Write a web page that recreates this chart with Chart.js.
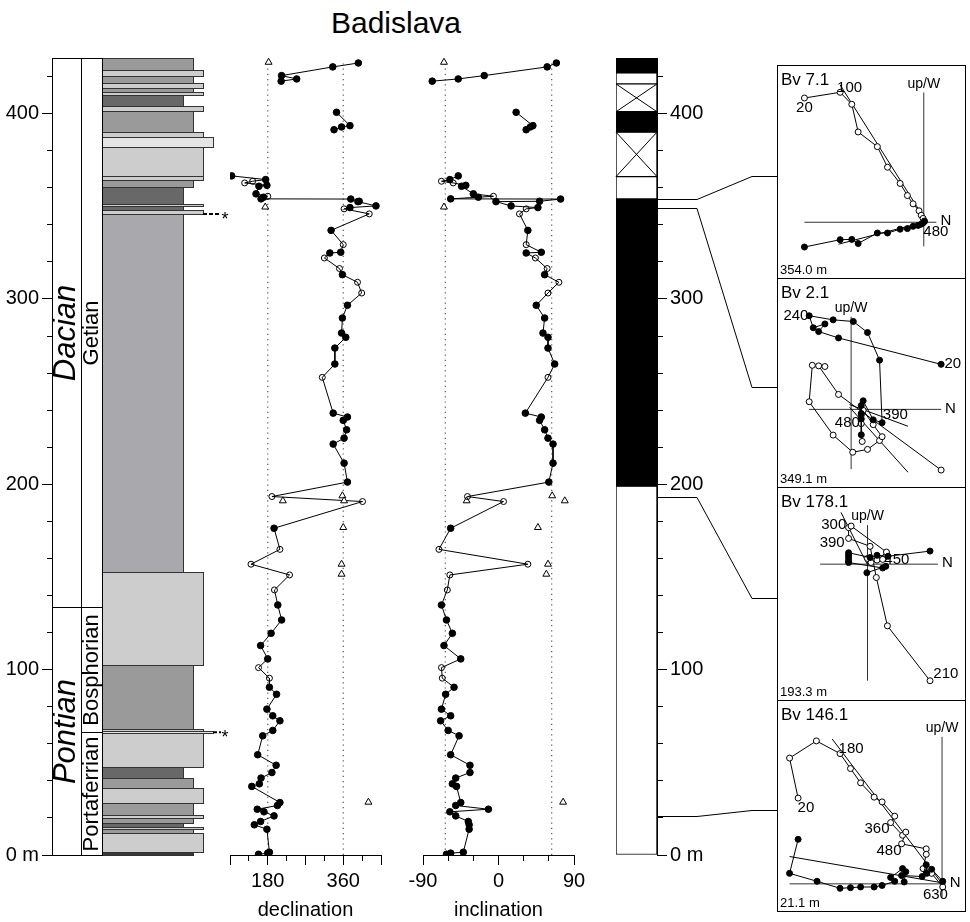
<!DOCTYPE html>
<html>
<head>
<meta charset="utf-8">
<title>Badislava</title>
<script src="https://cdn.jsdelivr.net/npm/chart.js@4.4.1/dist/chart.umd.min.js"></script>
<style>
  body { margin: 0; background: #fff; }
  #page { position: relative; width: 970px; height: 922px; overflow: hidden; background: #fff; }
  #page canvas { position: absolute; }
  #title { position: absolute; left: 246px; top: 6px; width: 300px; text-align: center;
           font: 30px 'Liberation Sans', Arial, sans-serif; line-height: 34px; color: #000; }
</style>
</head>
<body>
<div id="page">
  <div id="title">Badislava</div>
  <canvas id="litho" width="240" height="922" style="left:0;top:0"></canvas>
  <canvas id="dec" width="200" height="922" style="left:200px;top:0"></canvas>
  <canvas id="inc" width="200" height="922" style="left:400px;top:0"></canvas>
  <canvas id="pol" width="178" height="922" style="left:600px;top:0"></canvas>
</div>
<script>
const sans = "'Liberation Sans', Arial, sans-serif" ;
const narrow = "'Liberation Sans Narrow', 'Liberation Sans', Arial, sans-serif" ;

// ---------- lithology (top of each bed in m, bed runs down to the next top) ----------
let lithoTop = [430, 423.3, 420.4, 416.3, 413.6, 411.4, 409.8, 404.2, 401.4, 390.2, 387.3, 382, 366.4, 364.4, 360.4,
                351.4, 349.9, 347.9, 345.8, 152.8, 102.7, 67.8, 66.7, 65.6, 47.7, 41.7, 36.3, 28.2, 21.6, 20.1,
                17.1, 15.3, 13.8, 12, 1.8] ;
let lithoType = ['silt','sand','silt','sand','silt','sand','clay','sand','silt','sand','coarse','sand','sand','silt','clay',
                 'sand','clay','sand','marl','sand','silt','sand','coarse','sand','clay','silt','sand','silt','sand','silt',
                 'clay','sand','silt','sand','dark'] ;
let starDepth = [345.8, 66.2] ;

let stageNames = ['Dacian', 'Pontian'] ;
let stageTop = [430, 134] ;
let stageBottom = [134, 0] ;
let subNames = ['Getian', 'Bosphorian', 'Portaferrian'] ;
let subTop = [430, 134, 66.4] ;
let subBottom = [134, 66.4, 0] ;

// ---------- palaeomagnetic directions ----------
let topDepth = [427.3, 425.2, 420.5, 418.7, 417.5] ;
let topDec = [396, 335, 213, 249, 212] ;
let topInc = [69, 58, -17, -48, -79] ;

let midDepth = [400.7, 393.5, 392.8, 391.3] ;
let midDec = [344, 376, 356, 338] ;
let midInc = [21, 41, 38, 33] ;

let mainDepth = [366.4, 364.4, 363.5, 362.6, 361.3, 360.8, 356.7, 355.4, 354.9, 354.0, 353.9, 352.7, 352.5, 350.2, 349.3, 348.6, 345.9,
  337.0, 329.3, 325.2, 324.8, 322.1, 316.4, 313.1, 309.0, 303.2, 296.6, 289.7, 281.6, 279.3, 273.5, 264.9, 257.7,
  238.4, 236.3, 234.5, 229.4, 224.9, 221.7, 211.4, 201.2, 193.4, 190.7, 176.3, 164.9, 156.9, 151.1, 143.0, 134.9,
  126.8, 119.6, 113.0, 105.8, 101.1, 95.4, 90.5, 86.7, 78.7, 75.1, 72.4, 67.2, 64.3, 54.1, 48.4, 44.5, 41.5, 38.4,
  37.0, 28.3, 26.7, 24.7, 23.3, 21.1, 18.1, 16.3, 13.9, 1.5, 1.0, 0.4] ;
let mainDec = [94, 175, 144, 125, 178, 159, 152, 180, 170, 164, 378, 398, 395, 438, 376, 362, 422,
  331, 360, 354, 328, 315, 351, 358, 394, 404, 370, 358, 356, 366, 340, 340, 310,
  336, 370, 360, 368, 362, 336, 362, 370, 190, 406, 195, 209, 140, 232, 196, 204,
  213, 188, 163, 180, 158, 184, 184, 201, 178, 192, 209, 192, 168, 156, 200, 190, 164, 160,
  142, 209, 203, 155, 171, 195, 163, 148, 178, 184, 180, 158] ;
let mainInc = [-48, -58, -68, -54, -39, -44, -30, -6, -24, -57, 74, 49, -3, 15, 47, 33, 25,
  35, 33, 51, 33, 44, 58, 55, 72, 59, 45, 55, 53, 59, 59, 67, 59,
  32, 51, 49, 55, 59, 65, 65, 60, -37, 6, -57, -71, 35, -58, -61, -68,
  -62, -55, -65, -45, -68, -67, -53, -63, -68, -57, -69, -60, -47, -57, -34, -34, -51, -55,
  -50, -45, -51, -12, -58, -51, -36, -35, -35, -42, -57, -62] ;
let mainOpen = [0, 0, 1, 1, 0, 0, 0, 1, 0, 0, 0, 0, 0, 0, 0, 1, 1,
  0, 1, 0, 0, 1, 1, 0, 1, 1, 0, 0, 0, 0, 0, 0, 1,
  0, 0, 0, 0, 0, 0, 0, 0, 1, 1, 0, 1, 1, 1, 1, 0,
  0, 0, 0, 0, 1, 1, 0, 0, 0, 0, 0, 0, 0, 0, 0, 0, 0, 0,
  0, 0, 0, 0, 0, 0, 0, 0, 0, 0, 0, 0] ;

// rejected directions (triangles)
let rejDepth = [427.7, 349.6, 193.8, 191.1, 191.1, 176.7, 156.9, 151.5, 28.5] ;
let rejDec = [182, 174, 358, 362, 216, 360, 356, 356, 420] ;
let rejInc = [-65, -65, 64, 79, -38, 47, 59, 57, 77] ;

let decRefs = [180, 360] ;
let incRefs = [-63.4, 63.4] ;

// ---------- polarity zones ----------
let polTop = [430, 422, 416, 401, 390, 366, 354, 199] ;
let polBottom = [422, 416, 401, 390, 366, 354, 199, 0] ;
let polType = ['N', 'gap', 'x', 'N', 'x', 'R', 'N', 'R'] ;

// ---------- Zijderveld diagrams (N component, up/W component; arbitrary units) ----------
let zijNames = ['Bv 7.1', 'Bv 2.1', 'Bv 178.1', 'Bv 146.1'] ;
let zijDepthText = ['354.0 m', '349.1 m', '193.3 m', '21.1 m'] ;
let zijLink = [354.0, 349.1, 193.3, 21.1] ;

let bv71Open = [[-126,130.3],[-88.3,136.3],[-76,123.7],[-69.3,94.7],[-49,79.3],[-38.3,57.7],[-25,40.7],[-17.3,28],[-11.3,19.3],[-5,12],[-2.7,7.3],[-0.7,4],[0.7,1.3]] ;
let bv71Filled = [[-126,-26],[-88.3,-18.3],[-76,-18],[-69.3,-22.3],[-49,-11.3],[-38.3,-11.3],[-25,-7.3],[-17.3,-6.7],[-11.3,-4.3],[-6,-3.3],[-2.7,-2],[-0.7,-0.7],[0.7,0.7]] ;
let bv71Fit = [[[-88.3,144],[2.7,0.7]], [[-90,-23],[2.7,0.7]]] ;
let bv71Axes = [[-126,13.3],[-25.3,136]] ;
let bv71Temps = [['20',-126,120.3],['100',-78.3,140.7],['480',12.7,-9.7]] ;

let bv21Open = [[95,-63.7],[-13.3,15.7],[-34.3,45.7],[-27.7,45],[-41,46.3],[-44.3,8],[-19,-27],[1.7,-45],[17.3,-42],[30,-32.7],[32.7,-28.7],[23.3,-16],[12.7,-1],[10.7,-6],[10.7,-15],[11.7,-33.7]] ;
let bv21Filled = [[95,47.3],[-13.3,75],[-34.3,81.7],[-27.7,89.7],[-40,85.7],[-44.3,98.3],[-19,94],[2.3,92.3],[17.3,80.7],[30,51.7],[32.7,-14],[23.3,-11],[12.7,9],[10.7,4],[10.7,-4.3],[10.7,-10],[10.7,-26.7]] ;
let bv21Fit = [[[-1.7,5],[60,-17.7]], [[-1.7,2.3],[60,-66]]] ;
let bv21Axes = [[-44.3,95],[-62.7,97.3]] ;
let bv21Temps = [['240',-58.3,98.3],['20',107.3,47.3],['390',46.7,-6],['480',-4,-14.3]] ;

let bv178Open = [[66,-122.3],[21,-64.7],[9.3,-14],[2.7,18.7],[-20,27],[-20,38.3],[-17.3,40],[20,12.7],[10,4.3],[16,5],[0,6],[3.7,1.7]] ;
let bv178Filled = [[66,13.7],[21.7,8.3],[10,9.3],[2.7,7],[-20,12],[-20,9.3],[-20,6.7],[-20,3.7],[-20,1.7],[16,-4],[19.3,-2.3],[-0.7,-9]] ;
let bv178Fit = [[[-28,54.3],[0,-0.7]]] ;
let bv178Axes = [[-50,74.3],[-122.3,41]] ;
let bv178Temps = [['300',-35.7,41],['390',-37.3,22.7],['450',31,4.3],['210',82.7,-115]] ;

let bv146Open = [[-152,90],[-161,132],[-132.7,150],[-107.7,136.7],[-96.7,121],[-86,106],[-71.7,91],[-63.3,86],[-50,71],[-54.3,64.3],[-41.7,51],[-38.3,54.3],[-42.7,42],[-16.7,36.7],[-16.7,31],[-20,16],[-11,11],[0.7,-3.3]] ;
let bv146Filled = [[-152,46.7],[-161,11],[-132,2.7],[-107.7,-4.7],[-96.7,-4],[-86,-3.3],[-71.7,-3.3],[-63.3,-1.7],[-50,2.7],[-54.3,6.7],[-41.7,16],[-38.3,12.7],[-40,2],[-42.7,8.7],[-21,7.7],[-16.7,20],[-16,11],[-11,15.3],[0.7,2.7]] ;
let bv146Fit = [[[-116,152],[0.7,-0.7]], [[-161,28.7],[0.7,1]]] ;
let bv146Axes = [[-161,4],[-14,154.3]] ;
let bv146Temps = [['180',-96,142],['20',-143.7,80],['360',-68.7,57.7],['480',-56,34.3],['630',-7,-11.3]] ;

let zijOpen = [bv71Open, bv21Open, bv178Open, bv146Open] ;
let zijFilled = [bv71Filled, bv21Filled, bv178Filled, bv146Filled] ;
let zijFit = [bv71Fit, bv21Fit, bv178Fit, bv146Fit] ;
let zijAxes = [bv71Axes, bv21Axes, bv178Axes, bv146Axes] ;
let zijTemps = [bv71Temps, bv21Temps, bv178Temps, bv146Temps] ;

// ---------- layout ----------
const boxTop = [65, 278, 487, 700, 911] ;      // page y of the Zijderveld boxes
const zijView = [[-149.7, 159.7], [-73, 132.7], [-90.3, 75.7], [-169, 187.7]] ;  // upper-left corner in data units
const lithoWidth = {clay: 81, marl: 81, silt: 91, dark: 91, sand: 101, coarse: 111} ;
const lithoColour = {clay: '#686868', marl: '#a9a9ad', silt: '#9a9a9a', dark: '#383838', sand: '#cdcdcd', coarse: '#e4e4e4'} ;

Chart.defaults.font.family = sans ;
Chart.defaults.color = '#000' ;

function pts (arr) { return arr.map(p => ({x: p[0], y: p[1]})) ; }
function zipPts (xs, ys) { return xs.map((v, i) => ({x: v, y: ys[i]})) ; }

function depthAxis (pos) {
  return {
    type: 'linear', min: 0, max: 430, bounds: 'data', position: pos,
    afterFit: function (s) { s.width = pos === 'left' ? 52 : 50 ; },
    ticks: { stepSize: 20, maxTicksLimit: 100, autoSkip: false, padding: 3, color: '#000',
             font: {family: narrow, size: 20},
             callback: v => v % 100 === 0 ? (v === 0 ? '0 m' : String(v)) : '' },
    grid: { drawOnChartArea: false, tickLength: 10,
            tickColor: c => (c.tick && c.tick.value > 425) ? 'rgba(0,0,0,0)' : '#000',
            tickBorderDash: c => (c.tick && c.tick.value % 100 !== 0) ? (pos === 'left' ? [0, 5, 5, 100] : [5, 100]) : [] },
    border: { display: true, color: '#000', width: 1 }
  } ;
}

function angleAxis (min, max, step, major, labelled, title) {
  return {
    type: 'linear', min: min, max: max, bounds: 'data', position: 'bottom',
    afterFit: function (s) { s.height = 67 ; },
    ticks: { stepSize: step, maxTicksLimit: 100, autoSkip: false, maxRotation: 0, padding: 4, color: '#000',
             font: {family: narrow, size: 20},
             callback: v => labelled.includes(v) ? String(v) : '' },
    grid: { drawOnChartArea: false, tickLength: 10, tickColor: '#000',
            tickBorderDash: c => (c.tick && major.includes(c.tick.value)) ? [] : [5, 100] },
    border: { display: true, color: '#000', width: 1 },
    title: { display: true, text: title, color: '#000', font: {family: sans, size: 20}, padding: {top: 0, bottom: 0} }
  } ;
}

// ---------- lithology column ----------
const lithoPlugin = {
  id: 'litho',
  afterDraw (chart) {
    const ctx = chart.ctx, xs = chart.scales.x, ys = chart.scales.y ;
    const px = v => Math.round(xs.getPixelForValue(v)) + 0.5 ;
    const py = v => Math.round(ys.getPixelForValue(v)) + 0.5 ;
    ctx.save() ;
    ctx.lineWidth = 1 ;
    // beds
    for (let i = 0; i < lithoTop.length; i++) {
      let bottom = i + 1 < lithoTop.length ? lithoTop[i + 1] : 0 ;
      let t = lithoType[i] ;
      let x0 = px(50), x1 = px(50 + lithoWidth[t]), y0 = py(lithoTop[i]), y1 = py(bottom) ;
      ctx.fillStyle = lithoColour[t] ;
      ctx.fillRect(x0, y0, x1 - x0, y1 - y0) ;
      ctx.strokeStyle = '#333' ;
      ctx.strokeRect(x0, y0, x1 - x0, y1 - y0) ;
    }
    // stage / substage columns
    ctx.strokeStyle = '#000' ;
    ctx.fillStyle = '#000' ;
    ctx.textAlign = 'center' ;
    ctx.textBaseline = 'middle' ;
    for (let i = 0; i < stageNames.length; i++) {
      let y0 = py(stageTop[i]), y1 = py(stageBottom[i]) ;
      ctx.strokeRect(px(0), y0, px(29) - px(0), y1 - y0) ;
      ctx.save() ;
      ctx.translate(xs.getPixelForValue(14.5), (y0 + y1) / 2) ;
      ctx.rotate(-Math.PI / 2) ;
      ctx.font = 'italic 31px ' + sans ;
      ctx.fillText(stageNames[i], 0, 0) ;
      ctx.restore() ;
    }
    for (let i = 0; i < subNames.length; i++) {
      let y0 = py(subTop[i]), y1 = py(subBottom[i]) ;
      ctx.strokeRect(px(29), y0, px(50) - px(29), y1 - y0) ;
      ctx.save() ;
      ctx.translate(xs.getPixelForValue(39.5), (y0 + y1) / 2) ;
      ctx.rotate(-Math.PI / 2) ;
      ctx.font = '22px ' + sans ;
      ctx.fillText(subNames[i], 0, 0) ;
      ctx.restore() ;
    }
    // marker beds
    for (let d of starDepth) {
      let k = lithoTop.findIndex((t, i) => t > d && d >= (i + 1 < lithoTop.length ? lithoTop[i + 1] : 0)) ;
      let y = ys.getPixelForValue(d) ;
      ctx.setLineDash([4, 2]) ;
      ctx.lineWidth = 2 ;
      ctx.beginPath() ;
      ctx.moveTo(xs.getPixelForValue(50 + lithoWidth[lithoType[k]]), y) ;
      ctx.lineTo(xs.getPixelForValue(169), y) ;
      ctx.stroke() ;
      ctx.setLineDash([]) ;
      ctx.font = '18px ' + sans ;
      ctx.textBaseline = 'alphabetic' ;
      ctx.fillText('*', xs.getPixelForValue(173), y + 11) ;
    }
    ctx.restore() ;
  }
} ;

new Chart(document.getElementById('litho'), {
  type: 'scatter',
  data: { datasets: [] },
  options: {
    responsive: false, animation: false, events: [],
    layout: { padding: {top: 58, bottom: 67, left: 0, right: 0} },
    plugins: { legend: {display: false}, tooltip: {enabled: false} },
    scales: {
      x: { type: 'linear', min: 0, max: 188, bounds: 'data', display: false },
      y: depthAxis('left')
    }
  },
  plugins: [lithoPlugin]
}) ;

// ---------- declination / inclination ----------
function makeDirChart (id, topV, midV, mainV, rejV, refs, axis, pad) {
  let ds = [] ;
  refs.forEach(r => ds.push({ data: [{x: r, y: 0}, {x: r, y: 428}], showLine: true, pointRadius: 0,
    borderColor: '#555', borderWidth: 1.2, borderDash: [1.2, 4], order: 6 })) ;
  [zipPts(topV, topDepth), zipPts(midV, midDepth), zipPts(mainV, mainDepth)].forEach(g => ds.push({
    data: g, showLine: true, pointRadius: 0, borderColor: '#000', borderWidth: 1, order: 5 })) ;
  ds.push({ data: zipPts(rejV, rejDepth), pointStyle: 'triangle', pointRadius: 4,
    backgroundColor: '#fff', borderColor: '#000', borderWidth: 1, order: 3 }) ;
  let open = zipPts(mainV, mainDepth).filter((p, i) => mainOpen[i]) ;
  let filled = zipPts(topV, topDepth).concat(zipPts(midV, midDepth), zipPts(mainV, mainDepth).filter((p, i) => !mainOpen[i])) ;
  ds.push({ data: open, pointRadius: 3, backgroundColor: 'rgba(255,255,255,0)', borderColor: '#000', borderWidth: 1, order: 2 }) ;
  ds.push({ data: filled, pointRadius: 3.3, backgroundColor: '#000', borderColor: '#000', borderWidth: 1, order: 1 }) ;

  new Chart(document.getElementById(id), {
    type: 'scatter',
    data: { datasets: ds },
    options: {
      responsive: false, animation: false, events: [],
      layout: { padding: pad },
      plugins: { legend: {display: false}, tooltip: {enabled: false} },
      scales: {
        x: axis,
        y: { type: 'linear', min: 0, max: 430, bounds: 'data', display: false }
      }
    }
  }) ;
}

makeDirChart('dec', topDec, midDec, mainDec, rejDec, decRefs,
  angleAxis(90, 450, 45, [90, 180, 270, 360, 450], [180, 360], 'declination'),
  {top: 58, bottom: 0, left: 30, right: 19}) ;
makeDirChart('inc', topInc, midInc, mainInc, rejInc, incRefs,
  angleAxis(-90, 90, 30, [-90, 0, 90], [-90, 0, 90], 'inclination'),
  {top: 58, bottom: 0, left: 23, right: 26}) ;

// ---------- polarity column + links to the demagnetisation plots ----------
const polPlugin = {
  id: 'polExtras',
  afterDraw (chart) {
    const ctx = chart.ctx, ys = chart.scales.y ;
    ctx.save() ;
    ctx.strokeStyle = '#000' ;
    ctx.lineWidth = 1 ;
    polType.forEach((t, i) => {
      if (t !== 'x') return ;
      let el = chart.getDatasetMeta(i).data[0] ;
      let l = el.x - el.width / 2, r = el.x + el.width / 2 ;
      let a = Math.min(el.y, el.base), b = Math.max(el.y, el.base) ;
      ctx.beginPath() ;
      ctx.moveTo(l, a) ; ctx.lineTo(r, b) ;
      ctx.moveTo(r, a) ; ctx.lineTo(l, b) ;
      ctx.stroke() ;
    }) ;
    let x0 = chart.chartArea.right ;
    zijLink.forEach((d, k) => {
      let y0 = Math.round(ys.getPixelForValue(d)) + 0.5 ;
      let y1 = Math.round(boxTop[k] + 0.52 * (boxTop[k + 1] - boxTop[k])) + 0.5 ;
      ctx.beginPath() ;
      ctx.moveTo(x0, y0) ;
      ctx.lineTo(x0 + 40, y0) ;
      ctx.lineTo(x0 + 95, y1) ;
      ctx.lineTo(chart.width, y1) ;
      ctx.stroke() ;
    }) ;
    ctx.restore() ;
  }
} ;

new Chart(document.getElementById('pol'), {
  type: 'bar',
  data: {
    labels: ['polarity'],
    datasets: polTop.map((t, i) => ({
      data: [[polBottom[i], t]],
      backgroundColor: polType[i] === 'N' ? '#000' : '#fff',
      borderColor: '#000', borderWidth: 1, borderSkipped: false,
      barPercentage: 1, categoryPercentage: 1, grouped: false
    }))
  },
  options: {
    responsive: false, animation: false, events: [],
    layout: { padding: {top: 58, bottom: 67, left: 16, right: 71} },
    plugins: { legend: {display: false}, tooltip: {enabled: false} },
    scales: {
      x: { type: 'category', display: false },
      y: depthAxis('right')
    }
  },
  plugins: [polPlugin]
}) ;

// ---------- Zijderveld diagrams ----------
function zijPlugin (k) {
  return {
    id: 'zijText' + k,
    afterDraw (chart) {
      const ctx = chart.ctx, xs = chart.scales.x, ys = chart.scales.y ;
      const w = chart.width, h = chart.height ;
      const ax = zijAxes[k] ;
      ctx.save() ;
      ctx.strokeStyle = '#000' ;
      ctx.lineWidth = 1 ;
      ctx.strokeRect(0.5, 0.5, w - 1, h - 1) ;
      ctx.fillStyle = '#000' ;
      ctx.textAlign = 'left' ;
      ctx.textBaseline = 'alphabetic' ;
      ctx.font = '17px ' + narrow ;
      ctx.fillText(zijNames[k], 4, 20) ;
      ctx.font = '13px ' + narrow ;
      ctx.fillText(zijDepthText[k], 3, h - 5) ;
      ctx.font = '14px ' + narrow ;
      ctx.textAlign = 'center' ;
      ctx.fillText('up/W', xs.getPixelForValue(0), ys.getPixelForValue(ax[1][1]) - 5) ;
      ctx.font = '15px ' + narrow ;
      ctx.textAlign = 'left' ;
      ctx.textBaseline = 'middle' ;
      ctx.fillText('N', xs.getPixelForValue(ax[0][1]) + 4, ys.getPixelForValue(0) - 1) ;
      ctx.textAlign = 'center' ;
      for (let t of zijTemps[k]) {
        ctx.fillText(t[0], xs.getPixelForValue(t[1]), ys.getPixelForValue(t[2])) ;
      }
      ctx.restore() ;
    }
  } ;
}

const page = document.getElementById('page') ;
for (let k = 0; k < zijNames.length; k++) {
  let c = document.createElement('canvas') ;
  let w = 189, h = boxTop[k + 1] - boxTop[k] + 1 ;
  c.width = w ;
  c.height = h ;
  c.style.left = '777px' ;
  c.style.top = boxTop[k] + 'px' ;
  page.appendChild(c) ;

  let ax = zijAxes[k] ;
  let ds = [
    { data: [{x: ax[0][0], y: 0}, {x: ax[0][1], y: 0}], showLine: true, pointRadius: 0, borderColor: '#333', borderWidth: 1, order: 5 },
    { data: [{x: 0, y: ax[1][0]}, {x: 0, y: ax[1][1]}], showLine: true, pointRadius: 0, borderColor: '#333', borderWidth: 1, order: 5 }
  ] ;
  zijFit[k].forEach(f => ds.push({ data: pts(f), showLine: true, pointRadius: 0, borderColor: '#000', borderWidth: 1, order: 4 })) ;
  ds.push({ data: pts(zijOpen[k]), showLine: true, pointRadius: 3, backgroundColor: '#fff', borderColor: '#000', borderWidth: 1, order: 2 }) ;
  ds.push({ data: pts(zijFilled[k]), showLine: true, pointRadius: 3, backgroundColor: '#000', borderColor: '#000', borderWidth: 1, order: 1 }) ;

  new Chart(c, {
    type: 'scatter',
    data: { datasets: ds },
    options: {
      responsive: false, animation: false, events: [],
      layout: { padding: 0 },
      plugins: { legend: {display: false}, tooltip: {enabled: false} },
      scales: {
        x: { type: 'linear', bounds: 'data', display: false, min: zijView[k][0], max: zijView[k][0] + w },
        y: { type: 'linear', bounds: 'data', display: false, min: zijView[k][1] - h, max: zijView[k][1] }
      }
    },
    plugins: [zijPlugin(k)]
  }) ;
}
</script>
</body>
</html>
